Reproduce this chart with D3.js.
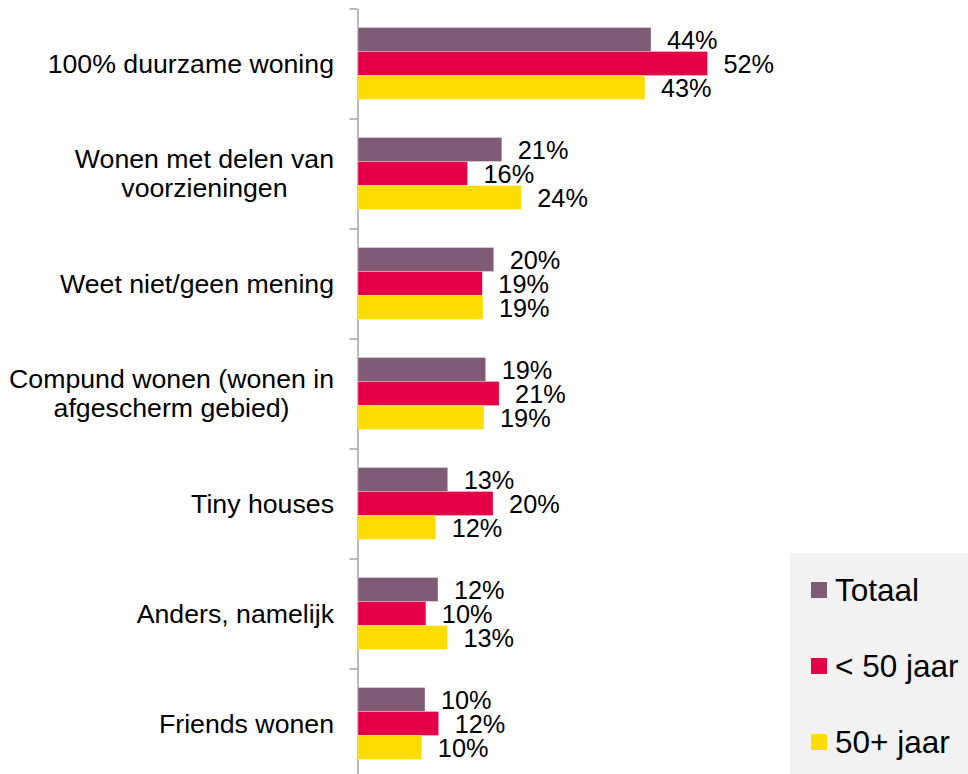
<!DOCTYPE html>
<html>
<head>
<meta charset="utf-8">
<script src="https://cdn.jsdelivr.net/npm/d3@7/dist/d3.min.js"></script>
<style>
  html, body { margin: 0; padding: 0; background: #fff; }
  svg { display: block; font-family: "Liberation Sans", Arial, sans-serif; }
</style>
</head>
<body>
<svg id="chart" width="968" height="774"></svg>
<script>
const categories = [
  "100% duurzame woning",
  "Wonen met delen van\nvoorzieningen",
  "Weet niet/geen mening",
  "Compund wonen (wonen in\nafgescherm gebied)",
  "Tiny houses",
  "Anders, namelijk",
  "Friends wonen"
];
const seriesNames = ["Totaal", "< 50 jaar", "50+ jaar"];
const seriesColors = ["#7f5b76", "#e30046", "#ffdd00"];
const totaal = [43.6, 21.4, 20.2, 19.0, 13.35, 11.9, 9.97];
const onder50 = [52.0, 16.3, 18.5, 21.0, 20.1, 10.1, 12.0];
const plus50 = [42.7, 24.3, 18.6, 18.75, 11.56, 13.3, 9.5];
const valueLabels = [
  ["44%", "21%", "20%", "19%", "13%", "12%", "10%"],
  ["52%", "16%", "19%", "21%", "20%", "10%", "12%"],
  ["43%", "24%", "19%", "19%", "12%", "13%", "10%"]
];
const seriesValues = [totaal, onder50, plus50];

const svg = d3.select("#chart");
const axisX = 358;
const x = d3.scaleLinear().domain([0, 100]).range([axisX, axisX + 672]);
const y0 = d3.scaleBand().domain(categories).range([8.5, 778.5]).padding(0);
const y1 = d3.scaleBand().domain(seriesNames).range([19, 91]).padding(0);
const color = d3.scaleOrdinal().domain(seriesNames).range(seriesColors);

// axis with ticks at band boundaries
const yIdx = d3.scaleLinear().domain([0, categories.length]).range([8.5, 778.5]);
const axis = svg.append("g")
  .attr("transform", `translate(${axisX - 0.5},0)`)
  .call(d3.axisLeft(yIdx).ticks(categories.length).tickFormat("").tickSize(8).tickSizeOuter(0));
axis.selectAll("path, line").attr("stroke", "#8c8c8c").attr("stroke-width", 1.2);

// bars
const groups = svg.selectAll("g.cat")
  .data(categories)
  .join("g")
  .attr("class", "cat")
  .attr("transform", d => `translate(0,${y0(d)})`);

seriesNames.forEach((s, si) => {
  groups.append("rect")
    .attr("x", x(0))
    .attr("y", y1(s))
    .attr("width", (d, i) => x(seriesValues[si][i]) - x(0))
    .attr("height", y1.bandwidth())
    .attr("fill", color(s))
    .attr("stroke", "#ffffff")
    .attr("stroke-opacity", 0.5)
    .attr("stroke-width", 0.6);
  groups.append("text")
    .attr("x", (d, i) => x(seriesValues[si][i]) + 16)
    .attr("y", y1(s) + y1.bandwidth() / 2)
    .attr("dy", "0.36em")
    .attr("font-size", 25.3)
    .attr("fill", "#000")
    .text((d, i) => valueLabels[si][i]);
});

// category labels
const catFont = 26.7;
const lineH = 29;
groups.each(function(d) {
  const lines = d.split("\n");
  const g = d3.select(this);
  const cy = y0.bandwidth() / 2;
  const t = g.append("text")
    .attr("font-size", catFont)
    .attr("fill", "#000");
  if (lines.length === 1) {
    t.attr("x", 334).attr("text-anchor", "end")
      .attr("y", cy).attr("dy", "0.35em").text(lines[0]);
  } else {
    const tmp = g.append("text").attr("font-size", catFont).text(lines[0]);
    let maxW = 0;
    lines.forEach(l => { tmp.text(l); maxW = Math.max(maxW, tmp.node().getComputedTextLength()); });
    tmp.remove();
    const cx = 334 - maxW / 2;
    t.attr("text-anchor", "middle");
    lines.forEach((l, li) => {
      t.append("tspan")
        .attr("x", cx)
        .attr("y", cy + (li - (lines.length - 1) / 2) * lineH)
        .attr("dy", "0.35em")
        .text(l);
    });
  }
});

// legend
const legend = svg.append("g");
legend.append("rect")
  .attr("x", 790).attr("y", 553).attr("width", 178).attr("height", 221)
  .attr("fill", "#f2f2f2");
const legendY = d3.scalePoint().domain(seriesNames).range([590, 742]);
seriesNames.forEach(s => {
  legend.append("rect")
    .attr("x", 811).attr("y", legendY(s) - 8)
    .attr("width", 16).attr("height", 16)
    .attr("fill", color(s));
  legend.append("text")
    .attr("x", 835).attr("y", legendY(s))
    .attr("dy", "0.35em")
    .attr("font-size", 31.5)
    .attr("fill", "#000")
    .text(s);
});
</script>
</body>
</html>
